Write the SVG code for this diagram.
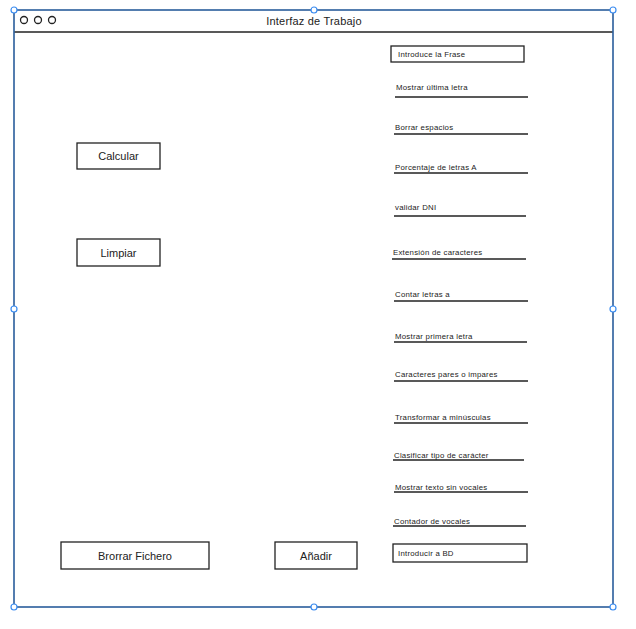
<svg xmlns="http://www.w3.org/2000/svg" width="636" height="629" viewBox="0 0 636 629">
<style>
.sk{fill:#fff;stroke:#222;stroke-width:1.3}
.ln{stroke:#222;stroke-width:1.3;fill:none}
.t{font-family:"Liberation Sans",Arial,sans-serif;fill:#222}
.s{font-size:7.8px;letter-spacing:0.25px}
.b{font-size:11px;text-anchor:middle}
.h{fill:#fff;stroke:#3b8cf0;stroke-width:1.2}
</style>
<rect width="636" height="629" fill="#fff"/>
<g id="window">
  <rect x="14" y="10" width="599" height="597" class="sk" stroke-width="1.6"/>
  <line x1="14" y1="32" x2="613" y2="32" class="ln" stroke-width="1.6"/>
  <circle cx="24" cy="20" r="3.5" class="ln" stroke-width="1.1"/>
  <circle cx="38" cy="20" r="3.5" class="ln" stroke-width="1.1"/>
  <circle cx="52" cy="20" r="3.5" class="ln" stroke-width="1.1"/>
  <text x="314" y="25" class="t b" font-size="10px" letter-spacing="0.2px">Interfaz de Trabajo</text>
</g>
<g id="selection">
  <rect x="14" y="10" width="599" height="597" fill="none" stroke="#3b8cf0" stroke-width="1"/>
  <circle cx="14" cy="10" r="3" class="h"/>
  <circle cx="314" cy="10" r="3" class="h"/>
  <circle cx="613" cy="10" r="3" class="h"/>
  <circle cx="14" cy="309" r="3" class="h"/>
  <circle cx="613" cy="309" r="3" class="h"/>
  <circle cx="14" cy="607" r="3" class="h"/>
  <circle cx="314" cy="607" r="3" class="h"/>
  <circle cx="613" cy="607" r="3" class="h"/>
</g>
<g id="connectors"></g>
<g id="btn-calcular">
  <rect x="77" y="143" width="83" height="26" class="sk"/>
  <text x="118.5" y="160" class="t b">Calcular</text>
</g>
<g id="btn-limpiar">
  <rect x="77" y="239" width="83" height="27" class="sk"/>
  <text x="118.5" y="257" class="t b">Limpiar</text>
</g>
<g id="btn-borrar">
  <rect x="61" y="542" width="148" height="27" class="sk"/>
  <text x="135" y="560" class="t b">Brorrar Fichero</text>
</g>
<g id="btn-anadir">
  <rect x="275" y="542" width="82" height="27" class="sk"/>
  <text x="316" y="560" class="t b">Añadir</text>
</g>
<g id="input-frase">
  <rect x="391" y="46" width="133" height="16" class="sk"/>
  <text x="398" y="57" class="t s">Introduce la Frase</text>
</g>
<g id="input-bd">
  <rect x="393" y="544" width="134" height="18" class="sk"/>
  <text x="398" y="556" class="t s">Introducir a BD</text>
</g>
<g id="f1"><text x="396" y="90" class="t s">Mostrar última letra</text><line x1="395" y1="97" x2="528" y2="97" class="ln"/></g>
<g id="f2"><text x="395" y="130" class="t s">Borrar espacios</text><line x1="394" y1="134" x2="528" y2="134" class="ln"/></g>
<g id="f3"><text x="395" y="170" class="t s">Porcentaje de letras A</text><line x1="394" y1="173" x2="528" y2="173" class="ln"/></g>
<g id="f4"><text x="395" y="210" class="t s">validar DNI</text><line x1="394" y1="216" x2="526" y2="216" class="ln"/></g>
<g id="f5"><text x="393" y="255" class="t s">Extensión de caracteres</text><line x1="392" y1="259" x2="526" y2="259" class="ln"/></g>
<g id="f6"><text x="395" y="297" class="t s">Contar letras a</text><line x1="394" y1="301" x2="528" y2="301" class="ln"/></g>
<g id="f7"><text x="395" y="339" class="t s">Mostrar primera letra</text><line x1="394" y1="342" x2="527" y2="342" class="ln"/></g>
<g id="f8"><text x="395" y="377" class="t s">Caracteres pares o impares</text><line x1="394" y1="381" x2="528" y2="381" class="ln"/></g>
<g id="f9"><text x="395" y="420" class="t s">Transformar a minúsculas</text><line x1="394" y1="423" x2="528" y2="423" class="ln"/></g>
<g id="f10"><text x="394" y="458" class="t s">Clasificar tipo de carácter</text><line x1="393" y1="460" x2="524" y2="460" class="ln"/></g>
<g id="f11"><text x="395" y="490" class="t s">Mostrar texto sin vocales</text><line x1="394" y1="492" x2="528" y2="492" class="ln"/></g>
<g id="f12"><text x="394" y="524" class="t s">Contador de vocales</text><line x1="393" y1="526" x2="526" y2="526" class="ln"/></g>
</svg>
